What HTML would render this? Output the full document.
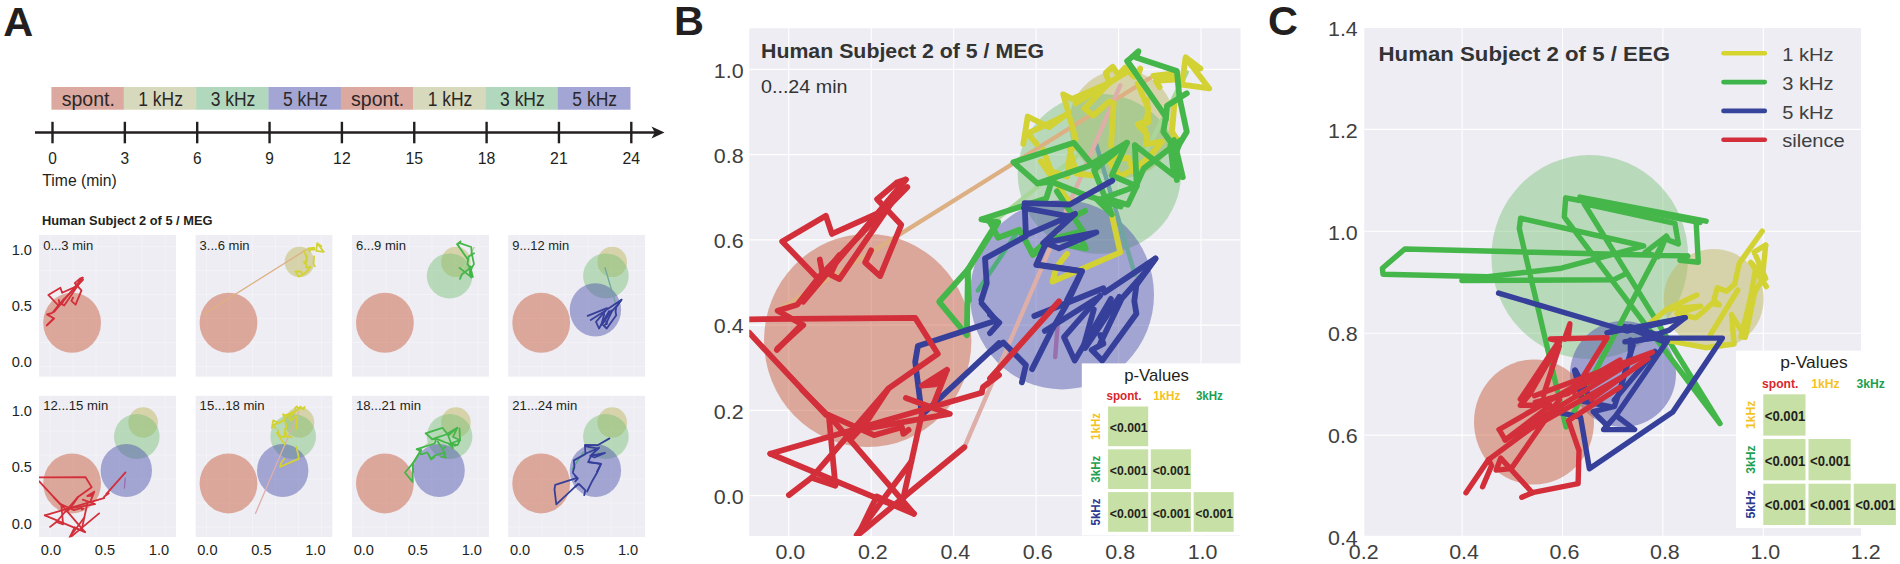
<!DOCTYPE html>
<html><head><meta charset="utf-8"><title>Figure</title>
<style>
html,body{margin:0;padding:0;background:#fff;}
body{width:1900px;height:564px;overflow:hidden;}
svg{display:block;font-family:"Liberation Sans",sans-serif;}
.mb{mix-blend-mode:multiply;}
polyline{fill:none;stroke-linejoin:round;stroke-linecap:round;}
</style></head><body>
<svg width="1900" height="564" viewBox="0 0 1900 564">
<rect width="1900" height="564" fill="#fff"/>
<text x="3.2" y="35.8" font-size="41.5" font-weight="bold" text-anchor="start" fill="#231F20" >A</text>
<text x="674" y="35.3" font-size="41.5" font-weight="bold" text-anchor="start" fill="#231F20" >B</text>
<text x="1268" y="35.3" font-size="41.5" font-weight="bold" text-anchor="start" fill="#231F20" >C</text>
<rect x="51.40" y="87" width="72.65" height="22.7" fill="#DCA9A1"/>
<text x="88.3" y="106" font-size="19.4" font-weight="normal" text-anchor="middle" fill="#2b2728"  textLength="53.2" lengthAdjust="spacingAndGlyphs">spont.</text>
<rect x="123.75" y="87" width="72.65" height="22.7" fill="#D6D9BB"/>
<text x="160.6" y="106" font-size="19.4" font-weight="normal" text-anchor="middle" fill="#2b2728"  textLength="44.7" lengthAdjust="spacingAndGlyphs">1 kHz</text>
<rect x="196.10" y="87" width="72.65" height="22.7" fill="#B1D8BD"/>
<text x="233.0" y="106" font-size="19.4" font-weight="normal" text-anchor="middle" fill="#2b2728"  textLength="44.7" lengthAdjust="spacingAndGlyphs">3 kHz</text>
<rect x="268.45" y="87" width="72.65" height="22.7" fill="#A3A6D4"/>
<text x="305.3" y="106" font-size="19.4" font-weight="normal" text-anchor="middle" fill="#2b2728"  textLength="44.7" lengthAdjust="spacingAndGlyphs">5 kHz</text>
<rect x="340.80" y="87" width="72.65" height="22.7" fill="#DCA9A1"/>
<text x="377.7" y="106" font-size="19.4" font-weight="normal" text-anchor="middle" fill="#2b2728"  textLength="53.2" lengthAdjust="spacingAndGlyphs">spont.</text>
<rect x="413.15" y="87" width="72.65" height="22.7" fill="#D6D9BB"/>
<text x="450.0" y="106" font-size="19.4" font-weight="normal" text-anchor="middle" fill="#2b2728"  textLength="44.7" lengthAdjust="spacingAndGlyphs">1 kHz</text>
<rect x="485.50" y="87" width="72.65" height="22.7" fill="#B1D8BD"/>
<text x="522.4" y="106" font-size="19.4" font-weight="normal" text-anchor="middle" fill="#2b2728"  textLength="44.7" lengthAdjust="spacingAndGlyphs">3 kHz</text>
<rect x="557.85" y="87" width="72.65" height="22.7" fill="#A3A6D4"/>
<text x="594.7" y="106" font-size="19.4" font-weight="normal" text-anchor="middle" fill="#2b2728"  textLength="44.7" lengthAdjust="spacingAndGlyphs">5 kHz</text>
<line x1="35" y1="132.5" x2="655" y2="132.5" stroke="#231F20" stroke-width="2.4"/>
<path d="M664.5 132.5 L651.5 126.6 L654.8 132.5 L651.5 138.4 Z" fill="#231F20"/>
<line x1="52.50" y1="121.8" x2="52.50" y2="143.3" stroke="#231F20" stroke-width="2.4"/>
<text x="52.5" y="163.5" font-size="16.8" font-weight="normal" text-anchor="middle" fill="#231F20"  textLength="8.6" lengthAdjust="spacingAndGlyphs">0</text>
<line x1="124.85" y1="121.8" x2="124.85" y2="143.3" stroke="#231F20" stroke-width="2.4"/>
<text x="124.8" y="163.5" font-size="16.8" font-weight="normal" text-anchor="middle" fill="#231F20"  textLength="8.6" lengthAdjust="spacingAndGlyphs">3</text>
<line x1="197.20" y1="121.8" x2="197.20" y2="143.3" stroke="#231F20" stroke-width="2.4"/>
<text x="197.2" y="163.5" font-size="16.8" font-weight="normal" text-anchor="middle" fill="#231F20"  textLength="8.6" lengthAdjust="spacingAndGlyphs">6</text>
<line x1="269.55" y1="121.8" x2="269.55" y2="143.3" stroke="#231F20" stroke-width="2.4"/>
<text x="269.5" y="163.5" font-size="16.8" font-weight="normal" text-anchor="middle" fill="#231F20"  textLength="8.6" lengthAdjust="spacingAndGlyphs">9</text>
<line x1="341.90" y1="121.8" x2="341.90" y2="143.3" stroke="#231F20" stroke-width="2.4"/>
<text x="341.9" y="163.5" font-size="16.8" font-weight="normal" text-anchor="middle" fill="#231F20"  textLength="17.6" lengthAdjust="spacingAndGlyphs">12</text>
<line x1="414.25" y1="121.8" x2="414.25" y2="143.3" stroke="#231F20" stroke-width="2.4"/>
<text x="414.2" y="163.5" font-size="16.8" font-weight="normal" text-anchor="middle" fill="#231F20"  textLength="17.6" lengthAdjust="spacingAndGlyphs">15</text>
<line x1="486.60" y1="121.8" x2="486.60" y2="143.3" stroke="#231F20" stroke-width="2.4"/>
<text x="486.6" y="163.5" font-size="16.8" font-weight="normal" text-anchor="middle" fill="#231F20"  textLength="17.6" lengthAdjust="spacingAndGlyphs">18</text>
<line x1="558.95" y1="121.8" x2="558.95" y2="143.3" stroke="#231F20" stroke-width="2.4"/>
<text x="558.9" y="163.5" font-size="16.8" font-weight="normal" text-anchor="middle" fill="#231F20"  textLength="17.6" lengthAdjust="spacingAndGlyphs">21</text>
<line x1="631.30" y1="121.8" x2="631.30" y2="143.3" stroke="#231F20" stroke-width="2.4"/>
<text x="631.3" y="163.5" font-size="16.8" font-weight="normal" text-anchor="middle" fill="#231F20"  textLength="17.6" lengthAdjust="spacingAndGlyphs">24</text>
<text x="42.3" y="185.8" font-size="16.8" font-weight="normal" text-anchor="start" fill="#231F20"  textLength="74.5" lengthAdjust="spacingAndGlyphs">Time (min)</text>
<text x="42" y="224.6" font-size="12.6" font-weight="bold" text-anchor="start" fill="#231F20"  textLength="170.5" lengthAdjust="spacingAndGlyphs">Human Subject 2 of 5 / MEG</text>
<clipPath id="cs00"><rect x="39" y="235" width="137.2" height="141.8"/></clipPath><g clip-path="url(#cs00)"><rect x="39" y="235" width="137.2" height="141.8" fill="#EDEDF3"/>
<path d="M50.1 235V376.8M39 366.5H176.2" stroke="#fff" stroke-width="0.6" stroke-opacity="0.55" fill="none"/>
<path d="M73.1 235V376.8M39 342.5H176.2" stroke="#fff" stroke-width="0.6" stroke-opacity="0.55" fill="none"/>
<path d="M96.1 235V376.8M39 318.5H176.2" stroke="#fff" stroke-width="0.6" stroke-opacity="0.55" fill="none"/>
<path d="M119.1 235V376.8M39 294.5H176.2" stroke="#fff" stroke-width="0.6" stroke-opacity="0.55" fill="none"/>
<path d="M142.1 235V376.8M39 270.5H176.2" stroke="#fff" stroke-width="0.6" stroke-opacity="0.55" fill="none"/>
<path d="M165.1 235V376.8M39 246.6H176.2" stroke="#fff" stroke-width="0.6" stroke-opacity="0.55" fill="none"/>
<ellipse cx="72.1" cy="322.8" rx="28.9" ry="30.0" fill="rgb(203,97,67)" fill-opacity="0.5"/>
<polyline points="58.8,306.0 48.3,294.9 60.4,287.7 62.1,292.8 75.2,286.9 82.7,277.6 80.2,278.4 74.7,283.1 81.5,290.3 75.6,304.7 71.4,300.9 73.1,297.5" stroke="#D32F3A" stroke-width="1.8"/>
<polyline points="83.2,279.7 58.8,304.7 52.5,312.8 47.0,314.4 53.7,318.3 46.8,325.5" stroke="#D32F3A" stroke-width="1.8"/>
<polyline points="47.0,325.1 54.1,318.5" stroke="#D32F3A" stroke-width="1.8"/>
<polyline points="82.7,277.6 54.1,311.9" stroke="#D32F3A" stroke-width="1.8"/>
<polyline points="58.8,300.0 59.6,304.7 64.2,298.8 61.7,304.3 64.2,305.5 80.6,281.4" stroke="#D32F3A" stroke-width="1.8"/>
<text x="43.2" y="249.5" font-size="13.4" font-weight="normal" text-anchor="start" fill="#231F20"  textLength="50" lengthAdjust="spacingAndGlyphs">0...3 min</text>
</g>
<clipPath id="cs01"><rect x="195.4" y="235" width="137.2" height="141.8"/></clipPath><g clip-path="url(#cs01)"><rect x="195.4" y="235" width="137.2" height="141.8" fill="#EDEDF3"/>
<path d="M206.5 235V376.8M195.4 366.5H332.6" stroke="#fff" stroke-width="0.6" stroke-opacity="0.55" fill="none"/>
<path d="M229.5 235V376.8M195.4 342.5H332.6" stroke="#fff" stroke-width="0.6" stroke-opacity="0.55" fill="none"/>
<path d="M252.5 235V376.8M195.4 318.5H332.6" stroke="#fff" stroke-width="0.6" stroke-opacity="0.55" fill="none"/>
<path d="M275.5 235V376.8M195.4 294.5H332.6" stroke="#fff" stroke-width="0.6" stroke-opacity="0.55" fill="none"/>
<path d="M298.5 235V376.8M195.4 270.5H332.6" stroke="#fff" stroke-width="0.6" stroke-opacity="0.55" fill="none"/>
<path d="M321.5 235V376.8M195.4 246.6H332.6" stroke="#fff" stroke-width="0.6" stroke-opacity="0.55" fill="none"/>
<ellipse cx="228.5" cy="322.8" rx="28.9" ry="30.0" fill="rgb(203,97,67)" fill-opacity="0.5"/>
<ellipse cx="299.5" cy="261.9" rx="14.8" ry="15.2" fill="rgb(191,185,97)" fill-opacity="0.5"/>
<polyline points="203.4,314.4 307.3,249.0" stroke="#DDB083" stroke-width="1.3"/>
<polyline points="321.4,246.3 317.2,243.2 323.8,251.9 316.2,250.9 317.2,243.2" stroke="#D2D235" stroke-width="1.8"/>
<polyline points="308.2,248.4 314.1,247.7 314.1,249.5 308.9,249.8 309.9,251.6" stroke="#D2D235" stroke-width="1.8"/>
<polyline points="306.5,255.0 306.8,261.3 304.4,262.7 306.5,264.8 306.1,267.6 310.6,266.9 307.2,271.1" stroke="#D2D235" stroke-width="1.8"/>
<polyline points="314.1,256.4 313.4,264.1 314.8,266.2" stroke="#D2D235" stroke-width="1.8"/>
<polyline points="307.2,271.1 304.2,273.7 299.0,276.7 295.3,271.5 301.2,271.5 302.7,275.2" stroke="#D2D235" stroke-width="1.8"/>
<polyline points="303.8,250.6 306.8,257.6 306.3,261.1 303.8,262.1 305.8,263.5" stroke="#D2D235" stroke-width="1.8"/>
<text x="199.6" y="249.5" font-size="13.4" font-weight="normal" text-anchor="start" fill="#231F20"  textLength="50" lengthAdjust="spacingAndGlyphs">3...6 min</text>
</g>
<clipPath id="cs02"><rect x="351.8" y="235" width="137.2" height="141.8"/></clipPath><g clip-path="url(#cs02)"><rect x="351.8" y="235" width="137.2" height="141.8" fill="#EDEDF3"/>
<path d="M362.9 235V376.8M351.8 366.5H489.0" stroke="#fff" stroke-width="0.6" stroke-opacity="0.55" fill="none"/>
<path d="M385.9 235V376.8M351.8 342.5H489.0" stroke="#fff" stroke-width="0.6" stroke-opacity="0.55" fill="none"/>
<path d="M408.9 235V376.8M351.8 318.5H489.0" stroke="#fff" stroke-width="0.6" stroke-opacity="0.55" fill="none"/>
<path d="M431.9 235V376.8M351.8 294.5H489.0" stroke="#fff" stroke-width="0.6" stroke-opacity="0.55" fill="none"/>
<path d="M454.9 235V376.8M351.8 270.5H489.0" stroke="#fff" stroke-width="0.6" stroke-opacity="0.55" fill="none"/>
<path d="M477.9 235V376.8M351.8 246.6H489.0" stroke="#fff" stroke-width="0.6" stroke-opacity="0.55" fill="none"/>
<ellipse cx="384.9" cy="322.8" rx="28.9" ry="30.0" fill="rgb(203,97,67)" fill-opacity="0.5"/>
<ellipse cx="455.9" cy="261.9" rx="14.8" ry="15.2" fill="rgb(191,185,97)" fill-opacity="0.5"/>
<ellipse cx="449.6" cy="275.9" rx="22.8" ry="22.5" fill="rgb(119,191,117)" fill-opacity="0.46"/>
<polyline points="474.0,247.4 462.9,269.0" stroke="#A9D79A" stroke-width="1.3"/>
<polyline points="459.1,246.7 457.3,244.2 460.5,241.4 459.8,243.2 471.2,247.0 471.9,254.3 474.0,264.1 471.9,267.6 470.5,271.1 472.2,276.7" stroke="#45B649" stroke-width="1.8"/>
<polyline points="457.3,244.2 468.1,259.9 467.4,264.1 469.8,267.6 471.2,277.7" stroke="#45B649" stroke-width="1.8"/>
<polyline points="474.0,253.3 468.4,256.8 468.1,260.6" stroke="#45B649" stroke-width="1.8"/>
<polyline points="472.3,266.4 461.9,274.4 460.0,278.9" stroke="#45B649" stroke-width="1.8"/>
<polyline points="470.3,266.4 472.8,276.9" stroke="#45B649" stroke-width="1.8"/>
<polyline points="459.5,267.9 470.3,276.4 469.4,267.9" stroke="#45B649" stroke-width="1.8"/>
<text x="356.0" y="249.5" font-size="13.4" font-weight="normal" text-anchor="start" fill="#231F20"  textLength="50" lengthAdjust="spacingAndGlyphs">6...9 min</text>
</g>
<clipPath id="cs03"><rect x="508.1" y="235" width="137.2" height="141.8"/></clipPath><g clip-path="url(#cs03)"><rect x="508.1" y="235" width="137.2" height="141.8" fill="#EDEDF3"/>
<path d="M519.2 235V376.8M508.1 366.5H645.3" stroke="#fff" stroke-width="0.6" stroke-opacity="0.55" fill="none"/>
<path d="M542.2 235V376.8M508.1 342.5H645.3" stroke="#fff" stroke-width="0.6" stroke-opacity="0.55" fill="none"/>
<path d="M565.2 235V376.8M508.1 318.5H645.3" stroke="#fff" stroke-width="0.6" stroke-opacity="0.55" fill="none"/>
<path d="M588.2 235V376.8M508.1 294.5H645.3" stroke="#fff" stroke-width="0.6" stroke-opacity="0.55" fill="none"/>
<path d="M611.2 235V376.8M508.1 270.5H645.3" stroke="#fff" stroke-width="0.6" stroke-opacity="0.55" fill="none"/>
<path d="M634.2 235V376.8M508.1 246.6H645.3" stroke="#fff" stroke-width="0.6" stroke-opacity="0.55" fill="none"/>
<ellipse cx="541.2" cy="322.8" rx="28.9" ry="30.0" fill="rgb(203,97,67)" fill-opacity="0.5"/>
<ellipse cx="612.2" cy="261.9" rx="14.8" ry="15.2" fill="rgb(191,185,97)" fill-opacity="0.5"/>
<ellipse cx="605.9" cy="275.9" rx="22.8" ry="22.5" fill="rgb(119,191,117)" fill-opacity="0.46"/>
<ellipse cx="595.4" cy="309.9" rx="25.7" ry="26.6" fill="rgb(79,83,173)" fill-opacity="0.47"/>
<polyline points="605.0,267.8 615.8,304.4" stroke="#6DA5A0" stroke-width="1.3"/>
<polyline points="587.7,315.9 607.0,308.1 607.3,309.3 621.5,299.8 616.2,307.2 615.6,311.7 616.2,315.3 606.7,328.5 603.7,325.5 607.0,323.7 606.1,321.3" stroke="#36409A" stroke-width="1.8"/>
<polyline points="621.5,299.8 618.9,303.3 612.0,311.1 606.1,323.7" stroke="#36409A" stroke-width="1.8"/>
<polyline points="606.1,310.2 596.0,321.9 599.0,328.5 609.1,311.1 601.9,324.9 611.4,310.5" stroke="#36409A" stroke-width="1.8"/>
<polyline points="604.3,314.1 601.3,324.9" stroke="#36409A" stroke-width="1.8"/>
<polyline points="590.7,320.1 604.9,311.1" stroke="#36409A" stroke-width="1.8"/>
<text x="512.3000000000001" y="249.5" font-size="13.4" font-weight="normal" text-anchor="start" fill="#231F20"  textLength="56.8" lengthAdjust="spacingAndGlyphs">9...12 min</text>
</g>
<clipPath id="cs10"><rect x="39" y="395.6" width="137.2" height="141.6"/></clipPath><g clip-path="url(#cs10)"><rect x="39" y="395.6" width="137.2" height="141.6" fill="#EDEDF3"/>
<path d="M50.1 395.6V537.2M39 527.1H176.2" stroke="#fff" stroke-width="0.6" stroke-opacity="0.55" fill="none"/>
<path d="M73.1 395.6V537.2M39 503.1H176.2" stroke="#fff" stroke-width="0.6" stroke-opacity="0.55" fill="none"/>
<path d="M96.1 395.6V537.2M39 479.1H176.2" stroke="#fff" stroke-width="0.6" stroke-opacity="0.55" fill="none"/>
<path d="M119.1 395.6V537.2M39 455.1H176.2" stroke="#fff" stroke-width="0.6" stroke-opacity="0.55" fill="none"/>
<path d="M142.1 395.6V537.2M39 431.1H176.2" stroke="#fff" stroke-width="0.6" stroke-opacity="0.55" fill="none"/>
<path d="M165.1 395.6V537.2M39 407.2H176.2" stroke="#fff" stroke-width="0.6" stroke-opacity="0.55" fill="none"/>
<ellipse cx="72.1" cy="483.4" rx="28.9" ry="30.0" fill="rgb(203,97,67)" fill-opacity="0.5"/>
<ellipse cx="143.1" cy="422.5" rx="14.8" ry="15.2" fill="rgb(191,185,97)" fill-opacity="0.5"/>
<ellipse cx="136.8" cy="436.5" rx="22.8" ry="22.5" fill="rgb(119,191,117)" fill-opacity="0.46"/>
<ellipse cx="126.3" cy="470.5" rx="25.7" ry="26.6" fill="rgb(79,83,173)" fill-opacity="0.47"/>
<polyline points="125.2,478.4 124.4,488.1" stroke="#9A6FAE" stroke-width="1.3"/>
<polyline points="39.0,477.4 85.4,477.1 91.7,487.2 78.0,496.9 71.6,506.6 67.2,511.4" stroke="#D32F3A" stroke-width="1.8"/>
<polyline points="39.0,481.2 60.5,504.4" stroke="#D32F3A" stroke-width="1.8"/>
<polyline points="94.3,491.7 87.2,496.1 90.9,495.8 94.3,491.7 90.2,502.1" stroke="#D32F3A" stroke-width="1.8"/>
<polyline points="108.8,493.2 104.3,496.5 103.9,498.0" stroke="#D32F3A" stroke-width="1.8"/>
<polyline points="44.9,515.3 103.9,498.1" stroke="#D32F3A" stroke-width="1.8"/>
<polyline points="44.9,515.3 85.0,532.1 74.6,527.3 69.4,538.1 99.1,513.4" stroke="#D32F3A" stroke-width="1.8"/>
<polyline points="50.1,526.9 56.4,522.0 63.1,524.3 61.3,504.5 85.0,532.1" stroke="#D32F3A" stroke-width="1.8"/>
<polyline points="77.6,497.3 56.4,522.0" stroke="#D32F3A" stroke-width="1.8"/>
<polyline points="69.1,538.1 84.3,517.5" stroke="#D32F3A" stroke-width="1.8"/>
<polyline points="81.7,529.5 87.2,504.1" stroke="#D32F3A" stroke-width="1.8"/>
<polyline points="53.8,497.3 60.5,504.1 73.9,510.1 81.7,507.8 82.0,509.7 83.5,508.6" stroke="#D32F3A" stroke-width="1.8"/>
<polyline points="82.8,499.6 95.0,504.1 71.6,508.2" stroke="#D32F3A" stroke-width="1.8"/>
<polyline points="125.5,472.4 106.2,494.1" stroke="#D32F3A" stroke-width="1.8"/>
<text x="43.2" y="410.1" font-size="13.4" font-weight="normal" text-anchor="start" fill="#231F20"  textLength="65" lengthAdjust="spacingAndGlyphs">12...15 min</text>
</g>
<clipPath id="cs11"><rect x="195.4" y="395.6" width="137.2" height="141.6"/></clipPath><g clip-path="url(#cs11)"><rect x="195.4" y="395.6" width="137.2" height="141.6" fill="#EDEDF3"/>
<path d="M206.5 395.6V537.2M195.4 527.1H332.6" stroke="#fff" stroke-width="0.6" stroke-opacity="0.55" fill="none"/>
<path d="M229.5 395.6V537.2M195.4 503.1H332.6" stroke="#fff" stroke-width="0.6" stroke-opacity="0.55" fill="none"/>
<path d="M252.5 395.6V537.2M195.4 479.1H332.6" stroke="#fff" stroke-width="0.6" stroke-opacity="0.55" fill="none"/>
<path d="M275.5 395.6V537.2M195.4 455.1H332.6" stroke="#fff" stroke-width="0.6" stroke-opacity="0.55" fill="none"/>
<path d="M298.5 395.6V537.2M195.4 431.1H332.6" stroke="#fff" stroke-width="0.6" stroke-opacity="0.55" fill="none"/>
<path d="M321.5 395.6V537.2M195.4 407.2H332.6" stroke="#fff" stroke-width="0.6" stroke-opacity="0.55" fill="none"/>
<ellipse cx="228.5" cy="483.4" rx="28.9" ry="30.0" fill="rgb(203,97,67)" fill-opacity="0.5"/>
<ellipse cx="299.5" cy="422.5" rx="14.8" ry="15.2" fill="rgb(191,185,97)" fill-opacity="0.5"/>
<ellipse cx="293.2" cy="436.5" rx="22.8" ry="22.5" fill="rgb(119,191,117)" fill-opacity="0.46"/>
<ellipse cx="282.7" cy="470.5" rx="25.7" ry="26.6" fill="rgb(79,83,173)" fill-opacity="0.47"/>
<polyline points="255.5,513.4 299.0,411.6" stroke="#DDAFA8" stroke-width="1.3"/>
<polyline points="271.9,428.1 273.2,420.4 279.1,423.4 284.5,419.4 283.1,414.2 285.5,415.4 295.9,410.9 294.9,408.2 296.9,406.4 298.4,408.7 300.4,406.7 302.8,409.2 304.6,406.9 303.8,409.2" stroke="#D2D235" stroke-width="1.8"/>
<polyline points="275.6,428.1 273.2,425.1 280.6,421.7 284.5,419.7 286.5,426.6" stroke="#D2D235" stroke-width="1.8"/>
<polyline points="295.9,410.9 289.0,418.2 291.5,420.2 295.9,416.2 297.2,416.7 296.4,428.6" stroke="#D2D235" stroke-width="1.8"/>
<polyline points="300.4,408.2 286.5,416.7" stroke="#D2D235" stroke-width="1.8"/>
<polyline points="286.4,426.9 284.9,431.4 286.4,435.9" stroke="#D2D235" stroke-width="1.8"/>
<polyline points="296.4,447.0 299.0,458.6 280.1,466.9 281.2,462.8 284.2,459.0" stroke="#D2D235" stroke-width="1.8"/>
<polyline points="277.5,429.8 279.7,435.8 284.2,437.3 284.9,431.3" stroke="#D2D235" stroke-width="1.8"/>
<polyline points="284.8,429.0 286.7,436.5 291.7,437.0" stroke="#D2D235" stroke-width="1.8"/>
<polyline points="276.8,433.0 284.8,444.5" stroke="#D2D235" stroke-width="1.8"/>
<text x="199.6" y="410.1" font-size="13.4" font-weight="normal" text-anchor="start" fill="#231F20"  textLength="65" lengthAdjust="spacingAndGlyphs">15...18 min</text>
</g>
<clipPath id="cs12"><rect x="351.8" y="395.6" width="137.2" height="141.6"/></clipPath><g clip-path="url(#cs12)"><rect x="351.8" y="395.6" width="137.2" height="141.6" fill="#EDEDF3"/>
<path d="M362.9 395.6V537.2M351.8 527.1H489.0" stroke="#fff" stroke-width="0.6" stroke-opacity="0.55" fill="none"/>
<path d="M385.9 395.6V537.2M351.8 503.1H489.0" stroke="#fff" stroke-width="0.6" stroke-opacity="0.55" fill="none"/>
<path d="M408.9 395.6V537.2M351.8 479.1H489.0" stroke="#fff" stroke-width="0.6" stroke-opacity="0.55" fill="none"/>
<path d="M431.9 395.6V537.2M351.8 455.1H489.0" stroke="#fff" stroke-width="0.6" stroke-opacity="0.55" fill="none"/>
<path d="M454.9 395.6V537.2M351.8 431.1H489.0" stroke="#fff" stroke-width="0.6" stroke-opacity="0.55" fill="none"/>
<path d="M477.9 395.6V537.2M351.8 407.2H489.0" stroke="#fff" stroke-width="0.6" stroke-opacity="0.55" fill="none"/>
<ellipse cx="384.9" cy="483.4" rx="28.9" ry="30.0" fill="rgb(203,97,67)" fill-opacity="0.5"/>
<ellipse cx="455.9" cy="422.5" rx="14.8" ry="15.2" fill="rgb(191,185,97)" fill-opacity="0.5"/>
<ellipse cx="449.6" cy="436.5" rx="22.8" ry="22.5" fill="rgb(119,191,117)" fill-opacity="0.46"/>
<ellipse cx="439.1" cy="470.5" rx="25.7" ry="26.6" fill="rgb(79,83,173)" fill-opacity="0.47"/>
<polyline points="443.5,431.3 419.0,450.8" stroke="#A9D79A" stroke-width="1.3"/>
<polyline points="413.2,472.0 412.7,463.8 417.9,455.2 420.9,450.5 416.9,449.2 434.7,443.5 436.2,438.7 432.3,439.2 425.6,433.3 442.4,427.8 447.3,433.8 457.2,427.8 448.1,435.5 453.0,448.0 449.1,444.0 460.0,440.0 457.5,445.2 451.5,443.5 454.5,445.5" stroke="#45B649" stroke-width="1.8"/>
<polyline points="432.3,439.2 447.6,434.0" stroke="#45B649" stroke-width="1.8"/>
<polyline points="436.2,438.7 445.6,442.5 455.5,445.7" stroke="#45B649" stroke-width="1.8"/>
<polyline points="457.2,427.8 453.0,437.0 460.0,440.0 459.5,428.5" stroke="#45B649" stroke-width="1.8"/>
<polyline points="437.7,441.5 445.1,453.0" stroke="#45B649" stroke-width="1.8"/>
<polyline points="445.6,447.0 442.6,448.5" stroke="#45B649" stroke-width="1.8"/>
<polyline points="412.9,463.4 404.9,472.5 412.6,481.9 412.9,463.4" stroke="#45B649" stroke-width="1.8"/>
<polyline points="416.6,449.4 421.3,450.1 412.7,463.8" stroke="#45B649" stroke-width="1.8"/>
<polyline points="429.0,455.4 431.0,459.4 434.5,456.9" stroke="#45B649" stroke-width="1.8"/>
<polyline points="419.0,450.0 421.3,454.5 427.2,452.3 430.9,459.0 435.0,455.3 443.5,453.0 445.8,457.5 441.3,456.8" stroke="#45B649" stroke-width="1.8"/>
<text x="356.0" y="410.1" font-size="13.4" font-weight="normal" text-anchor="start" fill="#231F20"  textLength="65" lengthAdjust="spacingAndGlyphs">18...21 min</text>
</g>
<clipPath id="cs13"><rect x="508.1" y="395.6" width="137.2" height="141.6"/></clipPath><g clip-path="url(#cs13)"><rect x="508.1" y="395.6" width="137.2" height="141.6" fill="#EDEDF3"/>
<path d="M519.2 395.6V537.2M508.1 527.1H645.3" stroke="#fff" stroke-width="0.6" stroke-opacity="0.55" fill="none"/>
<path d="M542.2 395.6V537.2M508.1 503.1H645.3" stroke="#fff" stroke-width="0.6" stroke-opacity="0.55" fill="none"/>
<path d="M565.2 395.6V537.2M508.1 479.1H645.3" stroke="#fff" stroke-width="0.6" stroke-opacity="0.55" fill="none"/>
<path d="M588.2 395.6V537.2M508.1 455.1H645.3" stroke="#fff" stroke-width="0.6" stroke-opacity="0.55" fill="none"/>
<path d="M611.2 395.6V537.2M508.1 431.1H645.3" stroke="#fff" stroke-width="0.6" stroke-opacity="0.55" fill="none"/>
<path d="M634.2 395.6V537.2M508.1 407.2H645.3" stroke="#fff" stroke-width="0.6" stroke-opacity="0.55" fill="none"/>
<ellipse cx="541.2" cy="483.4" rx="28.9" ry="30.0" fill="rgb(203,97,67)" fill-opacity="0.5"/>
<ellipse cx="612.2" cy="422.5" rx="14.8" ry="15.2" fill="rgb(191,185,97)" fill-opacity="0.5"/>
<ellipse cx="605.9" cy="436.5" rx="22.8" ry="22.5" fill="rgb(119,191,117)" fill-opacity="0.46"/>
<ellipse cx="595.4" cy="470.5" rx="25.7" ry="26.6" fill="rgb(79,83,173)" fill-opacity="0.47"/>
<polyline points="583.3,452.4 572.0,469.3" stroke="#4FAE7A" stroke-width="1.3"/>
<polyline points="609.5,438.4 597.6,445.2 585.0,444.8 585.4,453.8 599.1,447.8 590.2,456.0 605.0,453.0 594.6,457.5 590.9,456.0 588.3,462.0 600.9,463.9 596.9,472.0" stroke="#36409A" stroke-width="1.8"/>
<polyline points="585.3,454.1 573.9,460.4 574.4,467.3 572.9,472.0" stroke="#36409A" stroke-width="1.8"/>
<polyline points="584.8,446.1 598.2,448.6" stroke="#36409A" stroke-width="1.8"/>
<polyline points="573.0,473.0 577.1,477.8 555.2,484.9 554.5,489.4 556.3,504.4 577.9,484.2" stroke="#36409A" stroke-width="1.8"/>
<polyline points="588.3,462.2 601.0,463.9 596.6,473.5 592.4,480.7 587.1,491.5" stroke="#36409A" stroke-width="1.8"/>
<polyline points="584.2,495.2 585.4,490.3 579.0,484.0 575.3,486.6" stroke="#36409A" stroke-width="1.8"/>
<polyline points="575.3,476.1 577.9,478.4 575.3,481.4" stroke="#36409A" stroke-width="1.8"/>
<text x="512.3000000000001" y="410.1" font-size="13.4" font-weight="normal" text-anchor="start" fill="#231F20"  textLength="65" lengthAdjust="spacingAndGlyphs">21...24 min</text>
</g>
<text x="32" y="366.6" font-size="14.6" font-weight="normal" text-anchor="end" fill="#231F20" >0.0</text>
<text x="32" y="310.7" font-size="14.6" font-weight="normal" text-anchor="end" fill="#231F20" >0.5</text>
<text x="32" y="254.9" font-size="14.6" font-weight="normal" text-anchor="end" fill="#231F20" >1.0</text>
<text x="32" y="528.5" font-size="14.6" font-weight="normal" text-anchor="end" fill="#231F20" >0.0</text>
<text x="32" y="472.3" font-size="14.6" font-weight="normal" text-anchor="end" fill="#231F20" >0.5</text>
<text x="32" y="416.2" font-size="14.6" font-weight="normal" text-anchor="end" fill="#231F20" >1.0</text>
<text x="51.0" y="554.5" font-size="14.6" font-weight="normal" text-anchor="middle" fill="#231F20" >0.0</text>
<text x="105.0" y="554.5" font-size="14.6" font-weight="normal" text-anchor="middle" fill="#231F20" >0.5</text>
<text x="159.0" y="554.5" font-size="14.6" font-weight="normal" text-anchor="middle" fill="#231F20" >1.0</text>
<text x="207.4" y="554.5" font-size="14.6" font-weight="normal" text-anchor="middle" fill="#231F20" >0.0</text>
<text x="261.4" y="554.5" font-size="14.6" font-weight="normal" text-anchor="middle" fill="#231F20" >0.5</text>
<text x="315.4" y="554.5" font-size="14.6" font-weight="normal" text-anchor="middle" fill="#231F20" >1.0</text>
<text x="363.8" y="554.5" font-size="14.6" font-weight="normal" text-anchor="middle" fill="#231F20" >0.0</text>
<text x="417.8" y="554.5" font-size="14.6" font-weight="normal" text-anchor="middle" fill="#231F20" >0.5</text>
<text x="471.8" y="554.5" font-size="14.6" font-weight="normal" text-anchor="middle" fill="#231F20" >1.0</text>
<text x="520.1" y="554.5" font-size="14.6" font-weight="normal" text-anchor="middle" fill="#231F20" >0.0</text>
<text x="574.1" y="554.5" font-size="14.6" font-weight="normal" text-anchor="middle" fill="#231F20" >0.5</text>
<text x="628.1" y="554.5" font-size="14.6" font-weight="normal" text-anchor="middle" fill="#231F20" >1.0</text>
<rect x="749.3" y="28.3" width="491.20000000000005" height="507.7" fill="#EDEDF3"/>
<line x1="788.8" y1="28.3" x2="788.8" y2="536" stroke="#fff" stroke-width="1.1"/>
<line x1="749.3" y1="495.6" x2="1240.5" y2="495.6" stroke="#fff" stroke-width="1.1"/>
<text x="790.4" y="559.3" font-size="20" font-weight="normal" text-anchor="middle" fill="#404040"  textLength="29.8" lengthAdjust="spacingAndGlyphs">0.0</text>
<text x="743.6" y="503.8" font-size="20" font-weight="normal" text-anchor="end" fill="#404040"  textLength="29.8" lengthAdjust="spacingAndGlyphs">0.0</text>
<line x1="871.2" y1="28.3" x2="871.2" y2="536" stroke="#fff" stroke-width="1.1"/>
<line x1="749.3" y1="410.4" x2="1240.5" y2="410.4" stroke="#fff" stroke-width="1.1"/>
<text x="872.8" y="559.3" font-size="20" font-weight="normal" text-anchor="middle" fill="#404040"  textLength="29.8" lengthAdjust="spacingAndGlyphs">0.2</text>
<text x="743.6" y="418.6" font-size="20" font-weight="normal" text-anchor="end" fill="#404040"  textLength="29.8" lengthAdjust="spacingAndGlyphs">0.2</text>
<line x1="953.7" y1="28.3" x2="953.7" y2="536" stroke="#fff" stroke-width="1.1"/>
<line x1="749.3" y1="325.1" x2="1240.5" y2="325.1" stroke="#fff" stroke-width="1.1"/>
<text x="955.3" y="559.3" font-size="20" font-weight="normal" text-anchor="middle" fill="#404040"  textLength="29.8" lengthAdjust="spacingAndGlyphs">0.4</text>
<text x="743.6" y="333.3" font-size="20" font-weight="normal" text-anchor="end" fill="#404040"  textLength="29.8" lengthAdjust="spacingAndGlyphs">0.4</text>
<line x1="1036.1" y1="28.3" x2="1036.1" y2="536" stroke="#fff" stroke-width="1.1"/>
<line x1="749.3" y1="239.9" x2="1240.5" y2="239.9" stroke="#fff" stroke-width="1.1"/>
<text x="1037.7" y="559.3" font-size="20" font-weight="normal" text-anchor="middle" fill="#404040"  textLength="29.8" lengthAdjust="spacingAndGlyphs">0.6</text>
<text x="743.6" y="248.1" font-size="20" font-weight="normal" text-anchor="end" fill="#404040"  textLength="29.8" lengthAdjust="spacingAndGlyphs">0.6</text>
<line x1="1118.6" y1="28.3" x2="1118.6" y2="536" stroke="#fff" stroke-width="1.1"/>
<line x1="749.3" y1="154.6" x2="1240.5" y2="154.6" stroke="#fff" stroke-width="1.1"/>
<text x="1120.2" y="559.3" font-size="20" font-weight="normal" text-anchor="middle" fill="#404040"  textLength="29.8" lengthAdjust="spacingAndGlyphs">0.8</text>
<text x="743.6" y="162.8" font-size="20" font-weight="normal" text-anchor="end" fill="#404040"  textLength="29.8" lengthAdjust="spacingAndGlyphs">0.8</text>
<line x1="1201.0" y1="28.3" x2="1201.0" y2="536" stroke="#fff" stroke-width="1.1"/>
<line x1="749.3" y1="69.4" x2="1240.5" y2="69.4" stroke="#fff" stroke-width="1.1"/>
<text x="1202.6" y="559.3" font-size="20" font-weight="normal" text-anchor="middle" fill="#404040"  textLength="29.8" lengthAdjust="spacingAndGlyphs">1.0</text>
<text x="743.6" y="77.6" font-size="20" font-weight="normal" text-anchor="end" fill="#404040"  textLength="29.8" lengthAdjust="spacingAndGlyphs">1.0</text>
<clipPath id="cb"><rect x="749.3" y="28.3" width="491.20000000000005" height="507.7"/></clipPath>
<g clip-path="url(#cb)">
<ellipse cx="867.7" cy="340.5" rx="103.7" ry="106.5" fill="rgb(203,97,67)" fill-opacity="0.5"/>
<ellipse cx="1122" cy="124" rx="53" ry="54" fill="rgb(191,185,97)" fill-opacity="0.5"/>
<ellipse cx="1099.4" cy="173.7" rx="81.7" ry="80" fill="rgb(119,191,117)" fill-opacity="0.46"/>
<ellipse cx="1062" cy="294.7" rx="92" ry="94.7" fill="rgb(79,83,173)" fill-opacity="0.47"/>
<polyline points="777.6,310.7 1150.0,78.0" stroke="#DDB083" stroke-width="4.4"/>
<polyline points="1186.8,72.3 1147.1,149.2" stroke="#A9D79A" stroke-width="4.4"/>
<polyline points="1096.4,145.0 1135.0,275.0" stroke="#6DA5A0" stroke-width="4.4"/>
<polyline points="1057.8,322.6 1055.2,357.1" stroke="#9A6FAE" stroke-width="4.4"/>
<polyline points="964.4,447.2 1120.3,85.2" stroke="#DDAFA8" stroke-width="4.4"/>
<polyline points="1077.8,155.3 990.0,224.5" stroke="#A9D79A" stroke-width="4.4"/>
<polyline points="1018.7,230.1 977.9,290.4" stroke="#4FAE7A" stroke-width="4.4"/>
<polyline points="1200.5,68.5 1185.6,57.4 1209.2,88.4 1181.9,84.7 1185.6,57.4" stroke="#D2D235" stroke-width="5.8"/>
<polyline points="1153.3,76.0 1174.4,73.5 1174.4,79.7 1155.8,80.9 1159.6,87.1" stroke="#D2D235" stroke-width="5.8"/>
<polyline points="1147.1,99.6 1148.4,121.9 1139.7,126.8 1147.1,134.3 1145.9,144.2 1162.0,141.7 1149.6,156.6" stroke="#D2D235" stroke-width="5.8"/>
<polyline points="1174.4,104.5 1172.0,131.8 1176.9,139.3" stroke="#D2D235" stroke-width="5.8"/>
<polyline points="1149.6,156.6 1138.9,166.0 1120.3,176.6 1107.0,158.0 1128.3,158.0 1133.6,171.3" stroke="#D2D235" stroke-width="5.8"/>
<polyline points="1137.7,83.7 1148.3,108.5 1146.5,120.9 1137.7,124.5 1144.8,129.8" stroke="#D2D235" stroke-width="5.8"/>
<polyline points="1023.3,144.0 1027.7,116.5 1049.0,127.1 1068.5,112.9 1063.2,94.3 1072.1,98.8 1109.3,82.8 1105.7,73.0 1112.8,66.8 1118.2,74.8 1125.2,67.7 1134.1,76.6 1140.3,68.6 1137.7,76.6" stroke="#D2D235" stroke-width="5.8"/>
<polyline points="1036.6,144.0 1027.7,133.3 1054.3,120.9 1068.5,113.8 1075.6,138.7" stroke="#D2D235" stroke-width="5.8"/>
<polyline points="1109.3,82.8 1084.5,108.5 1093.3,115.6 1109.3,101.4 1113.7,103.2 1111.1,145.7" stroke="#D2D235" stroke-width="5.8"/>
<polyline points="1125.2,73.0 1075.6,103.2" stroke="#D2D235" stroke-width="5.8"/>
<polyline points="1075.1,139.7 1069.8,155.7 1075.1,171.6" stroke="#D2D235" stroke-width="5.8"/>
<polyline points="1111.0,211.2 1120.3,252.4 1052.5,281.6 1056.5,267.0 1067.1,253.7" stroke="#D2D235" stroke-width="5.8"/>
<polyline points="1043.2,150.0 1051.2,171.3 1067.1,176.6 1069.8,155.3" stroke="#D2D235" stroke-width="5.8"/>
<polyline points="1069.3,147.1 1076.4,173.7 1094.1,175.5" stroke="#D2D235" stroke-width="5.8"/>
<polyline points="1040.9,161.3 1069.3,202.1" stroke="#D2D235" stroke-width="5.8"/>
<polyline points="1133.5,69.8 1127.3,61.1 1138.5,51.2 1136.0,57.4 1176.9,71.0 1179.4,97.1 1186.8,131.8 1179.4,144.2 1174.4,156.6 1180.6,176.5" stroke="#45B649" stroke-width="5.8"/>
<polyline points="1127.3,61.1 1165.8,116.9 1163.3,131.8 1172.0,144.2 1176.9,180.0" stroke="#45B649" stroke-width="5.8"/>
<polyline points="1186.8,93.3 1167.0,105.8 1165.8,119.4" stroke="#45B649" stroke-width="5.8"/>
<polyline points="1181.0,140.0 1143.8,168.4 1136.7,184.3" stroke="#45B649" stroke-width="5.8"/>
<polyline points="1173.9,140.0 1182.8,177.2" stroke="#45B649" stroke-width="5.8"/>
<polyline points="1134.9,145.3 1173.9,175.5 1170.4,145.3" stroke="#45B649" stroke-width="5.8"/>
<polyline points="969.0,300.0 967.2,270.9 986.0,240.0 996.6,223.3 982.4,218.9 1046.2,198.5 1051.6,181.7 1037.4,183.4 1013.4,162.2 1073.7,142.7 1091.5,163.9 1126.9,142.7 1094.1,170.1 1111.8,214.5 1097.7,200.3 1136.7,186.1 1127.8,204.7 1106.5,198.5 1117.2,205.6" stroke="#45B649" stroke-width="5.8"/>
<polyline points="1037.4,183.4 1092.3,164.8" stroke="#45B649" stroke-width="5.8"/>
<polyline points="1051.6,181.7 1085.2,195.0 1120.7,206.5" stroke="#45B649" stroke-width="5.8"/>
<polyline points="1126.9,142.7 1111.8,175.5 1136.7,186.1 1134.9,145.3" stroke="#45B649" stroke-width="5.8"/>
<polyline points="1056.9,191.4 1083.5,232.2" stroke="#45B649" stroke-width="5.8"/>
<polyline points="1085.2,210.9 1074.6,216.2" stroke="#45B649" stroke-width="5.8"/>
<polyline points="968.0,269.5 939.2,301.8 966.8,335.2 968.0,269.5" stroke="#45B649" stroke-width="5.8"/>
<polyline points="981.4,219.5 998.3,222.2 967.2,270.9" stroke="#45B649" stroke-width="5.8"/>
<polyline points="1025.7,240.8 1032.8,255.0 1045.2,246.1" stroke="#45B649" stroke-width="5.8"/>
<polyline points="990.0,221.8 998.0,237.8 1019.3,229.8 1032.6,253.7 1047.2,240.4 1077.8,232.4 1085.7,248.4 1069.8,245.7" stroke="#45B649" stroke-width="5.8"/>
<polyline points="1034.3,316.0 1103.4,288.3 1104.5,292.6 1155.5,258.5 1136.4,285.1 1134.3,301.1 1136.4,313.8 1102.3,360.6 1091.7,350.0 1103.4,343.6 1100.2,335.1" stroke="#36409A" stroke-width="5.8"/>
<polyline points="1155.5,258.5 1146.0,271.3 1121.5,298.9 1100.2,343.6" stroke="#36409A" stroke-width="5.8"/>
<polyline points="1100.2,295.7 1064.0,337.2 1074.7,360.6 1110.9,298.9 1085.3,347.9 1119.4,296.8" stroke="#36409A" stroke-width="5.8"/>
<polyline points="1093.8,309.6 1083.2,347.9" stroke="#36409A" stroke-width="5.8"/>
<polyline points="1044.9,330.9 1096.0,298.9" stroke="#36409A" stroke-width="5.8"/>
<polyline points="1112.3,180.6 1069.8,204.5 1024.6,203.2 1025.9,235.1 1075.1,213.8 1043.2,243.1 1096.4,232.4 1059.1,248.4 1045.9,243.1 1036.5,264.4 1081.8,271.0 1067.1,300.0" stroke="#36409A" stroke-width="5.8"/>
<polyline points="1025.7,236.3 985.0,258.5 986.7,283.3 981.4,300.0" stroke="#36409A" stroke-width="5.8"/>
<polyline points="1024.0,208.0 1071.8,216.8" stroke="#36409A" stroke-width="5.8"/>
<polyline points="981.7,303.3 996.3,320.6 917.9,345.9 915.2,361.8 921.9,415.0 999.0,343.2" stroke="#36409A" stroke-width="5.8"/>
<polyline points="1036.4,264.9 1082.1,271.3 1066.2,305.3 1051.3,330.9 1032.1,369.1" stroke="#36409A" stroke-width="5.8"/>
<polyline points="1021.9,382.4 1025.9,365.1 1003.3,342.5 990.0,351.8" stroke="#36409A" stroke-width="5.8"/>
<polyline points="990.0,314.6 999.3,322.6 990.0,333.2" stroke="#36409A" stroke-width="5.8"/>
<polyline points="819.8,280.6 782.2,241.4 825.9,215.8 831.9,233.9 878.6,212.8 905.8,179.6 896.7,182.6 877.1,199.2 901.2,224.8 880.1,276.1 865.1,262.5 871.1,250.4" stroke="#D32F3A" stroke-width="5.8"/>
<polyline points="907.3,187.1 819.8,276.1 797.2,304.7 777.6,310.7 801.8,324.3 776.9,349.9" stroke="#D32F3A" stroke-width="5.8"/>
<polyline points="777.6,348.4 803.3,325.2" stroke="#D32F3A" stroke-width="5.8"/>
<polyline points="905.8,179.6 803.3,301.7" stroke="#D32F3A" stroke-width="5.8"/>
<polyline points="819.8,259.5 822.9,276.1 839.4,255.0 830.4,274.6 839.4,279.1 898.2,193.2" stroke="#D32F3A" stroke-width="5.8"/>
<polyline points="749.0,319.3 915.2,317.9 937.8,353.8 888.6,388.4 866.0,423.0 850.1,440.0" stroke="#D32F3A" stroke-width="5.8"/>
<polyline points="749.0,332.6 826.1,415.0" stroke="#D32F3A" stroke-width="5.8"/>
<polyline points="947.1,369.8 921.9,385.7 935.2,384.4 947.1,369.8 932.5,407.0" stroke="#D32F3A" stroke-width="5.8"/>
<polyline points="999.0,375.1 983.0,387.1 981.7,392.4" stroke="#D32F3A" stroke-width="5.8"/>
<polyline points="770.3,453.8 981.7,392.7" stroke="#D32F3A" stroke-width="5.8"/>
<polyline points="770.3,453.8 913.9,513.7 876.7,496.4 858.0,534.9 964.4,447.2" stroke="#D32F3A" stroke-width="5.8"/>
<polyline points="788.9,495.1 811.5,477.8 835.4,485.7 828.8,415.3 913.9,513.7" stroke="#D32F3A" stroke-width="5.8"/>
<polyline points="887.3,390.0 811.5,477.8" stroke="#D32F3A" stroke-width="5.8"/>
<polyline points="856.7,534.9 911.2,461.8" stroke="#D32F3A" stroke-width="5.8"/>
<polyline points="901.9,504.4 921.9,413.9" stroke="#D32F3A" stroke-width="5.8"/>
<polyline points="802.2,390.0 826.1,413.9 874.0,435.2 901.9,427.2 903.3,433.9 908.6,429.9" stroke="#D32F3A" stroke-width="5.8"/>
<polyline points="905.9,398.0 949.8,413.9 866.0,428.6" stroke="#D32F3A" stroke-width="5.8"/>
<polyline points="1059.1,301.3 990.0,378.4" stroke="#D32F3A" stroke-width="5.8"/>
</g>
<text x="761" y="57.8" font-size="20.6" font-weight="bold" text-anchor="start" fill="#333"  textLength="283" lengthAdjust="spacingAndGlyphs">Human Subject 2 of 5 / MEG</text>
<text x="761" y="92.6" font-size="18" font-weight="normal" text-anchor="start" fill="#333"  textLength="86.5" lengthAdjust="spacingAndGlyphs">0...24 min</text>
<rect x="1364.3" y="28.1" width="496.70000000000005" height="507.6" fill="#EDEDF3"/>
<text x="1363.7" y="559.3" font-size="20" font-weight="normal" text-anchor="middle" fill="#404040"  textLength="29.8" lengthAdjust="spacingAndGlyphs">0.2</text>
<text x="1357.8" y="545.2" font-size="20" font-weight="normal" text-anchor="end" fill="#404040"  textLength="29.8" lengthAdjust="spacingAndGlyphs">0.4</text>
<line x1="1462.1" y1="28.1" x2="1462.1" y2="535.7" stroke="#fff" stroke-width="1.1"/>
<line x1="1364.3" y1="435.1" x2="1861" y2="435.1" stroke="#fff" stroke-width="1.1"/>
<text x="1464.1" y="559.3" font-size="20" font-weight="normal" text-anchor="middle" fill="#404040"  textLength="29.8" lengthAdjust="spacingAndGlyphs">0.4</text>
<text x="1357.8" y="443.3" font-size="20" font-weight="normal" text-anchor="end" fill="#404040"  textLength="29.8" lengthAdjust="spacingAndGlyphs">0.6</text>
<line x1="1562.5" y1="28.1" x2="1562.5" y2="535.7" stroke="#fff" stroke-width="1.1"/>
<line x1="1364.3" y1="333.2" x2="1861" y2="333.2" stroke="#fff" stroke-width="1.1"/>
<text x="1564.5" y="559.3" font-size="20" font-weight="normal" text-anchor="middle" fill="#404040"  textLength="29.8" lengthAdjust="spacingAndGlyphs">0.6</text>
<text x="1357.8" y="341.4" font-size="20" font-weight="normal" text-anchor="end" fill="#404040"  textLength="29.8" lengthAdjust="spacingAndGlyphs">0.8</text>
<line x1="1662.9" y1="28.1" x2="1662.9" y2="535.7" stroke="#fff" stroke-width="1.1"/>
<line x1="1364.3" y1="231.3" x2="1861" y2="231.3" stroke="#fff" stroke-width="1.1"/>
<text x="1664.9" y="559.3" font-size="20" font-weight="normal" text-anchor="middle" fill="#404040"  textLength="29.8" lengthAdjust="spacingAndGlyphs">0.8</text>
<text x="1357.8" y="239.5" font-size="20" font-weight="normal" text-anchor="end" fill="#404040"  textLength="29.8" lengthAdjust="spacingAndGlyphs">1.0</text>
<line x1="1763.3" y1="28.1" x2="1763.3" y2="535.7" stroke="#fff" stroke-width="1.1"/>
<line x1="1364.3" y1="129.4" x2="1861" y2="129.4" stroke="#fff" stroke-width="1.1"/>
<text x="1765.3" y="559.3" font-size="20" font-weight="normal" text-anchor="middle" fill="#404040"  textLength="29.8" lengthAdjust="spacingAndGlyphs">1.0</text>
<text x="1357.8" y="137.6" font-size="20" font-weight="normal" text-anchor="end" fill="#404040"  textLength="29.8" lengthAdjust="spacingAndGlyphs">1.2</text>
<text x="1865.7" y="559.3" font-size="20" font-weight="normal" text-anchor="middle" fill="#404040"  textLength="29.8" lengthAdjust="spacingAndGlyphs">1.2</text>
<text x="1357.8" y="35.7" font-size="20" font-weight="normal" text-anchor="end" fill="#404040"  textLength="29.8" lengthAdjust="spacingAndGlyphs">1.4</text>
<clipPath id="cc"><rect x="1364.3" y="28.1" width="496.70000000000005" height="507.6"/></clipPath>
<g clip-path="url(#cc)">
<ellipse cx="1589.8" cy="257" rx="98.4" ry="102" fill="rgb(119,191,117)" fill-opacity="0.44"/>
<ellipse cx="1713.7" cy="299" rx="50" ry="50" fill="rgb(191,185,97)" fill-opacity="0.5"/>
<ellipse cx="1623" cy="374" rx="53" ry="53" fill="rgb(79,83,173)" fill-opacity="0.5"/>
<ellipse cx="1534" cy="422" rx="60" ry="62.5" fill="rgb(203,97,67)" fill-opacity="0.5"/>
<polyline points="1687.6,256.0 1404.8,249.0 1382.4,268.2 1383.0,274.2 1487.7,276.8 1561.4,268.2 1643.7,246.0 1520.6,218.2 1519.3,228.7 1566.0,427.0 1666.4,236.1 1645.1,252.4 1658.0,256.7 1666.4,236.1 1669.0,240.4 1678.4,243.9 1674.9,223.3 1584.0,203.5 1720.0,423.5 1570.0,224.7 1564.3,217.0 1565.7,197.8 1580.0,200.5" stroke="#45B649" stroke-width="5.4"/>
<polyline points="1579.9,197.1 1706.1,221.2" stroke="#45B649" stroke-width="5.4"/>
<polyline points="1581.0,199.5 1700.0,222.6" stroke="#45B649" stroke-width="5.4"/>
<polyline points="1696.2,223.3 1698.3,262.3 1679.9,260.2 1687.6,256.0" stroke="#45B649" stroke-width="5.4"/>
<polyline points="1461.9,280.6 1614.0,279.7 1626.5,273.4" stroke="#45B649" stroke-width="5.4"/>
<polyline points="1762.2,231.2 1739.2,263.5 1734.6,284.3 1726.5,291.2 1717.3,287.7 1713.8,300.4 1719.2,304.9 1711.7,303.7 1703.0,311.7 1695.6,317.9 1677.0,313.6 1700.6,306.1 1667.0,309.2 1696.8,295.0 1667.0,309.2 1649.7,323.5" stroke="#D2D235" stroke-width="5.4"/>
<polyline points="1669.5,340.9 1705.5,347.7 1734.0,344.0 1731.6,314.8 1745.3,337.2 1755.2,290.0" stroke="#D2D235" stroke-width="5.4"/>
<polyline points="1737.8,290.0 1710.5,334.7" stroke="#D2D235" stroke-width="5.4"/>
<polyline points="1765.7,245.1 1754.2,252.0 1765.7,278.5 1750.7,262.4 1766.4,286.6 1755.3,270.4 1743.8,337.3" stroke="#D2D235" stroke-width="5.4"/>
<polyline points="1765.7,245.1 1762.2,279.7 1750.0,300.0 1741.0,337.0" stroke="#D2D235" stroke-width="5.4"/>
<polyline points="1498.6,293.1 1626.7,331.0 1685.2,317.7 1669.2,330.1 1637.3,340.8 1624.9,341.7 1655.0,338.1 1722.4,338.1 1672.8,411.9 1589.4,468.7 1580.6,417.2 1556.6,411.9" stroke="#36409A" stroke-width="5.4"/>
<polyline points="1607.2,332.8 1685.2,317.7" stroke="#36409A" stroke-width="5.4"/>
<polyline points="1667.4,340.8 1626.7,400.0 1616.0,415.5 1634.6,429.6 1603.6,429.6 1616.0,415.5" stroke="#36409A" stroke-width="5.4"/>
<polyline points="1655.0,351.4 1614.3,400.0" stroke="#36409A" stroke-width="5.4"/>
<polyline points="1575.2,370.0 1591.2,400.0" stroke="#36409A" stroke-width="5.4"/>
<polyline points="1607.2,332.8 1630.2,326.6 1660.4,335.5 1637.3,340.8" stroke="#36409A" stroke-width="5.4"/>
<polyline points="1624.9,326.6 1663.9,341.7" stroke="#36409A" stroke-width="5.4"/>
<polyline points="1633.1,345.2 1619.8,390.4 1614.5,406.4 1593.2,411.7 1606.5,425.0" stroke="#36409A" stroke-width="5.4"/>
<polyline points="1574.6,370.5 1582.6,401.1 1609.1,406.4" stroke="#36409A" stroke-width="5.4"/>
<polyline points="1630.4,339.9 1630.4,353.2 1619.8,390.4" stroke="#36409A" stroke-width="5.4"/>
<polyline points="1564.6,339.0 1569.9,323.9 1568.2,338.1" stroke="#D32F3A" stroke-width="5.4"/>
<polyline points="1520.3,399.3 1559.3,340.8 1550.4,339.0 1607.2,337.6 1573.5,392.2" stroke="#D32F3A" stroke-width="5.4"/>
<polyline points="1559.3,346.1 1543.3,395.7" stroke="#D32F3A" stroke-width="5.4"/>
<polyline points="1534.5,395.7 1652.4,352.3 1559.3,395.7" stroke="#D32F3A" stroke-width="5.4"/>
<polyline points="1647.9,358.5 1591.2,399.3" stroke="#D32F3A" stroke-width="5.4"/>
<polyline points="1466.0,492.7 1488.6,459.6 1491.6,465.6 1482.6,486.7" stroke="#D32F3A" stroke-width="5.4"/>
<polyline points="1488.6,459.6 1529.3,429.5 1620.0,378.2" stroke="#D32F3A" stroke-width="5.4"/>
<polyline points="1499.2,429.5 1505.2,440.0 1620.0,369.2" stroke="#D32F3A" stroke-width="5.4"/>
<polyline points="1499.2,429.5 1559.5,394.8 1620.0,360.1" stroke="#D32F3A" stroke-width="5.4"/>
<polyline points="1505.2,440.0 1550.4,405.3 1520.3,405.3 1529.3,394.8 1559.5,342.1" stroke="#D32F3A" stroke-width="5.4"/>
<polyline points="1568.5,393.3 1535.3,402.3" stroke="#D32F3A" stroke-width="5.4"/>
<polyline points="1620.0,387.3 1568.5,420.4 1579.0,450.6 1578.1,483.7 1532.3,492.7 1521.8,497.3" stroke="#D32F3A" stroke-width="5.4"/>
<polyline points="1532.3,492.7 1500.7,458.1 1496.2,470.1 1511.2,468.6 1559.5,399.3" stroke="#D32F3A" stroke-width="5.4"/>
</g>
<text x="1378.5" y="60.8" font-size="20.8" font-weight="bold" text-anchor="start" fill="#333"  textLength="291.5" lengthAdjust="spacingAndGlyphs">Human Subject 2 of 5 / EEG</text>
<line x1="1723.5" y1="53.2" x2="1764.8" y2="53.2" stroke="#D6D52E" stroke-width="4.6" stroke-linecap="round"/>
<text x="1782.2" y="60.9" font-size="18.8" font-weight="normal" text-anchor="start" fill="#404040"  textLength="51.4" lengthAdjust="spacingAndGlyphs">1 kHz</text>
<line x1="1723.5" y1="82.1" x2="1764.8" y2="82.1" stroke="#3DB54A" stroke-width="4.6" stroke-linecap="round"/>
<text x="1782.2" y="89.8" font-size="18.8" font-weight="normal" text-anchor="start" fill="#404040"  textLength="51.4" lengthAdjust="spacingAndGlyphs">3 kHz</text>
<line x1="1723.5" y1="110.9" x2="1764.8" y2="110.9" stroke="#36459C" stroke-width="4.6" stroke-linecap="round"/>
<text x="1782.2" y="118.6" font-size="18.8" font-weight="normal" text-anchor="start" fill="#404040"  textLength="51.4" lengthAdjust="spacingAndGlyphs">5 kHz</text>
<line x1="1723.5" y1="139.8" x2="1764.8" y2="139.8" stroke="#D32F3A" stroke-width="4.6" stroke-linecap="round"/>
<text x="1782.2" y="147.4" font-size="18.8" font-weight="normal" text-anchor="start" fill="#404040"  textLength="62.6" lengthAdjust="spacingAndGlyphs">silence</text>
<rect x="1081.8" y="363.4" width="160" height="172" fill="#fff"/>
<text x="1156.6" y="381.3" font-size="15.899999999999999" font-weight="normal" text-anchor="middle" fill="#231F20"  textLength="64.7" lengthAdjust="spacingAndGlyphs">p-Values</text>
<text x="1123.9" y="399.8" font-size="12.6" font-weight="bold" text-anchor="middle" fill="#D9272E"  textLength="35" lengthAdjust="spacingAndGlyphs">spont.</text>
<text x="1166.7" y="399.8" font-size="12.6" font-weight="bold" text-anchor="middle" fill="#F4C31F"  textLength="27" lengthAdjust="spacingAndGlyphs">1kHz</text>
<text x="1209.4" y="399.8" font-size="12.6" font-weight="bold" text-anchor="middle" fill="#1C9F50"  textLength="27" lengthAdjust="spacingAndGlyphs">3kHz</text>
<rect x="1108.1" y="406.5" width="40.1" height="39.7" fill="#C6E0A5"/>
<text x="1128.7" y="431.9" font-size="13.2" font-weight="bold" text-anchor="middle" fill="#231F20"  textLength="37.7" lengthAdjust="spacingAndGlyphs">&lt;0.001</text>
<text transform="translate(1100.2,426.4) rotate(-90)" font-size="12.6" font-weight="bold" text-anchor="middle" fill="#F4C31F" textLength="27" lengthAdjust="spacingAndGlyphs">1kHz</text>
<rect x="1108.1" y="449.3" width="40.1" height="39.7" fill="#C6E0A5"/>
<text x="1128.7" y="474.7" font-size="13.2" font-weight="bold" text-anchor="middle" fill="#231F20"  textLength="37.7" lengthAdjust="spacingAndGlyphs">&lt;0.001</text>
<rect x="1150.8" y="449.3" width="40.1" height="39.7" fill="#C6E0A5"/>
<text x="1171.5" y="474.7" font-size="13.2" font-weight="bold" text-anchor="middle" fill="#231F20"  textLength="37.7" lengthAdjust="spacingAndGlyphs">&lt;0.001</text>
<text transform="translate(1100.2,469.2) rotate(-90)" font-size="12.6" font-weight="bold" text-anchor="middle" fill="#1C9F50" textLength="27" lengthAdjust="spacingAndGlyphs">3kHz</text>
<rect x="1108.1" y="492.1" width="40.1" height="39.7" fill="#C6E0A5"/>
<text x="1128.7" y="517.5" font-size="13.2" font-weight="bold" text-anchor="middle" fill="#231F20"  textLength="37.7" lengthAdjust="spacingAndGlyphs">&lt;0.001</text>
<rect x="1150.8" y="492.1" width="40.1" height="39.7" fill="#C6E0A5"/>
<text x="1171.5" y="517.5" font-size="13.2" font-weight="bold" text-anchor="middle" fill="#231F20"  textLength="37.7" lengthAdjust="spacingAndGlyphs">&lt;0.001</text>
<rect x="1193.6" y="492.1" width="40.1" height="39.7" fill="#C6E0A5"/>
<text x="1214.2" y="517.5" font-size="13.2" font-weight="bold" text-anchor="middle" fill="#231F20"  textLength="37.7" lengthAdjust="spacingAndGlyphs">&lt;0.001</text>
<text transform="translate(1100.2,512.0) rotate(-90)" font-size="12.6" font-weight="bold" text-anchor="middle" fill="#2B3990" textLength="27" lengthAdjust="spacingAndGlyphs">5kHz</text>
<rect x="1736" y="350.6" width="164" height="177.4" fill="#fff"/>
<text x="1814" y="368.4" font-size="16.5" font-weight="normal" text-anchor="middle" fill="#231F20"  textLength="67.4" lengthAdjust="spacingAndGlyphs">p-Values</text>
<text x="1780.2" y="387.9" font-size="13.2" font-weight="bold" text-anchor="middle" fill="#D9272E"  textLength="36.2" lengthAdjust="spacingAndGlyphs">spont.</text>
<text x="1825.4" y="387.9" font-size="13.2" font-weight="bold" text-anchor="middle" fill="#F4C31F"  textLength="28.4" lengthAdjust="spacingAndGlyphs">1kHz</text>
<text x="1870.6" y="387.9" font-size="13.2" font-weight="bold" text-anchor="middle" fill="#1C9F50"  textLength="28.4" lengthAdjust="spacingAndGlyphs">3kHz</text>
<rect x="1763.3" y="394.3" width="42.2" height="41.3" fill="#C6E0A5"/>
<text x="1785.0" y="420.8" font-size="14" font-weight="bold" text-anchor="middle" fill="#231F20"  textLength="40.4" lengthAdjust="spacingAndGlyphs">&lt;0.001</text>
<text transform="translate(1755.4,414.9) rotate(-90)" font-size="13.2" font-weight="bold" text-anchor="middle" fill="#F4C31F" textLength="28.4" lengthAdjust="spacingAndGlyphs">1kHz</text>
<rect x="1763.3" y="439.0" width="42.2" height="41.3" fill="#C6E0A5"/>
<text x="1785.0" y="465.5" font-size="14" font-weight="bold" text-anchor="middle" fill="#231F20"  textLength="40.4" lengthAdjust="spacingAndGlyphs">&lt;0.001</text>
<rect x="1808.5" y="439.0" width="42.2" height="41.3" fill="#C6E0A5"/>
<text x="1830.2" y="465.5" font-size="14" font-weight="bold" text-anchor="middle" fill="#231F20"  textLength="40.4" lengthAdjust="spacingAndGlyphs">&lt;0.001</text>
<text transform="translate(1755.4,459.6) rotate(-90)" font-size="13.2" font-weight="bold" text-anchor="middle" fill="#1C9F50" textLength="28.4" lengthAdjust="spacingAndGlyphs">3kHz</text>
<rect x="1763.3" y="483.7" width="42.2" height="41.3" fill="#C6E0A5"/>
<text x="1785.0" y="510.2" font-size="14" font-weight="bold" text-anchor="middle" fill="#231F20"  textLength="40.4" lengthAdjust="spacingAndGlyphs">&lt;0.001</text>
<rect x="1808.5" y="483.7" width="42.2" height="41.3" fill="#C6E0A5"/>
<text x="1830.2" y="510.2" font-size="14" font-weight="bold" text-anchor="middle" fill="#231F20"  textLength="40.4" lengthAdjust="spacingAndGlyphs">&lt;0.001</text>
<rect x="1853.7" y="483.7" width="42.2" height="41.3" fill="#C6E0A5"/>
<text x="1875.4" y="510.2" font-size="14" font-weight="bold" text-anchor="middle" fill="#231F20"  textLength="40.4" lengthAdjust="spacingAndGlyphs">&lt;0.001</text>
<text transform="translate(1755.4,504.4) rotate(-90)" font-size="13.2" font-weight="bold" text-anchor="middle" fill="#2B3990" textLength="28.4" lengthAdjust="spacingAndGlyphs">5kHz</text>
</svg>
</body></html>
